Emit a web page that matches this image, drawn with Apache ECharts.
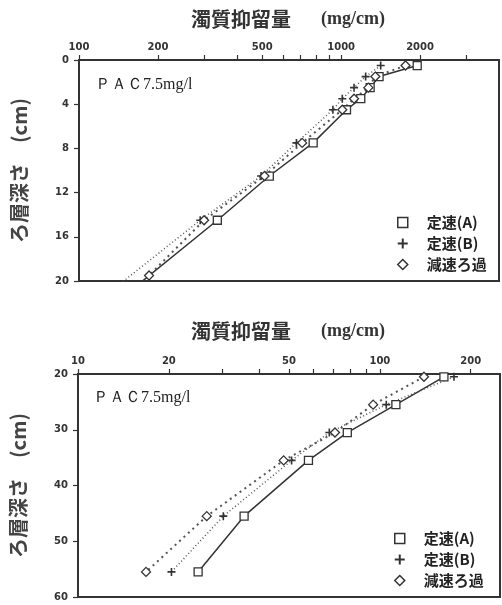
<!DOCTYPE html>
<html><head><meta charset="utf-8">
<script src="https://cdn.jsdelivr.net/npm/echarts@6/dist/echarts.min.js"></script>
<style>html,body{margin:0;padding:0;background:#fff}#c{width:502px;height:605px}</style>
</head><body><div id="c"></div>
<script>
// ---- data ----
const seriesNames = ['定速(A)', '定速(B)', '減速ろ過'];
// top panel (depth cm, retained mg/cm)
const depthTopA = [0.5, 1.5, 2.5, 3.5, 4.5, 7.5, 10.5, 14.5, 21];
const valTopA   = [1950, 1395, 1290, 1188, 1048, 782, 532, 337, 155];
const depthTopB = [0.5, 1.5, 2.5, 3.5, 4.5, 7.5, 10.5, 14.5, 21];
const valTopB   = [1415, 1240, 1120, 1010, 930, 675, 495, 290, 131];
const depthTopC = [0.5, 1.5, 2.5, 3.5, 4.5, 7.5, 10.5, 14.5, 19.5];
const valTopC   = [1760, 1350, 1270, 1120, 1010, 710, 510, 300, 185];
// bottom panel
const depthBot = [20.5, 25.5, 30.5, 35.5, 45.5, 55.5];
const valBotA  = [163, 113, 78, 58, 35.5, 25];
const valBotB  = [176, 105, 68, 51, 30.3, 20.4];
const valBotC  = [140, 95, 71, 48, 26.7, 16.8];
// tick labels
const topXTicks  = [100, 200, 300, 400, 500, 600, 700, 800, 900, 1000, 2000, 3000];
const topXLabels = [100, 200, 500, 1000, 2000];
const botXTicks  = [10, 20, 30, 40, 50, 60, 70, 80, 90, 100, 200];
const botXLabels = [10, 20, 50, 100, 200];
const axisTitle = '濁質抑留量';
const axisUnit = '(mg/cm)';
const yName = 'ろ層深さ　(cm)';
const noteText = 'ＰＡＣ7.5mg/l';

const pair = (xs, ys) => xs.map((x, i) => [x, ys[i]]);
const dark = '#333';
const plusPath = 'path://M4,0h2v4h4v2h-4v4h-2v-4h-4v-2h4z';
const cjk = '"Noto Sans CJK JP", sans-serif';

function xAx(gi, min, max, ticks, labels) {
  return {
    type: 'log', logBase: 10, gridIndex: gi, position: 'top', min, max,
    axisLine: { lineStyle: { color: dark, width: 2 } },
    axisTick: { show: true, inside: false, length: 5, customValues: ticks, lineStyle: { color: dark, width: 1.2 } },
    axisLabel: { customValues: labels, formatter: v => String(Math.round(v)), color: dark, fontSize: 10, fontWeight: 'bold', fontFamily: 'DejaVu Sans', margin: 8 },
    splitLine: { show: false }, minorTick: { show: false }
  };
}
function yAx(gi, min, max, interval) {
  return {
    type: 'value', gridIndex: gi, inverse: true, min, max, interval,
    name: yName, nameLocation: 'middle', nameRotate: 90, nameGap: 50,
    nameTextStyle: { fontFamily: cjk, fontSize: 20, fontWeight: 'bold', color: '#444' },
    axisLine: { onZero: false, lineStyle: { color: dark, width: 2 } },
    axisTick: { length: 5, lineStyle: { color: dark, width: 1.2 } },
    axisLabel: { color: dark, fontSize: 10, fontWeight: 'bold', fontFamily: 'DejaVu Sans', margin: 10 },
    splitLine: { show: false }
  };
}
function ser(name, data, gi, kind) {
  const base = { name, type: 'line', xAxisIndex: gi, yAxisIndex: gi, data, clip: true, symbolSize: 8, z: 3 };
  if (kind === 0) return Object.assign(base, { symbol: 'rect', itemStyle: { color: '#fff', borderColor: dark, borderWidth: 1.3 }, lineStyle: { color: '#333', width: 1.5, type: 'solid' } });
  if (kind === 1) return Object.assign(base, { symbol: plusPath, symbolSize: 8, itemStyle: { color: dark }, lineStyle: { color: '#555', width: 1.5, type: [1, 2.5] } });
  return Object.assign(base, { symbol: 'diamond', symbolSize: 9, itemStyle: { color: '#fff', borderColor: dark, borderWidth: 1.3 }, lineStyle: { color: '#555', width: 2, type: [2, 4] } });
}
function legend(left, top) {
  return {
    left, top, orient: 'vertical', itemWidth: 10, itemHeight: 10, itemGap: 6,
    textStyle: { fontFamily: cjk, fontSize: 15, fontWeight: 'bold', color: '#222', padding: [0, 0, 0, 14] },
    data: [
      { name: seriesNames[0], icon: 'rect', itemStyle: { color: '#fff', borderColor: dark, borderWidth: 1.5 } },
      { name: seriesNames[1], icon: plusPath, itemStyle: { color: dark, borderWidth: 0 } },
      { name: seriesNames[2], icon: 'diamond', itemStyle: { color: '#fff', borderColor: dark, borderWidth: 1.5 } }
    ]
  };
}
function title(top) {
  return {
    text: '{a|' + axisTitle + '}{s| }{b|' + axisUnit + '}', left: 186, top,
    textStyle: { rich: {
      a: { fontFamily: cjk, fontSize: 20, fontWeight: 'bold', color: '#333' },
      s: { width: 30 },
      b: { fontFamily: '"Liberation Serif", serif', fontSize: 18, fontWeight: 'bold', color: '#333' }
    } }
  };
}

const chart = echarts.init(document.getElementById('c'), null, { renderer: 'canvas' });
chart.setOption({
  animation: false,
  backgroundColor: '#fff',
  title: [title(4), title(316)],
  grid: [
    { left: 79, right: 3, top: 60, height: 221, show: true, borderColor: dark, borderWidth: 2 },
    { left: 76, right: 2, top: 374, height: 223, show: true, borderColor: dark, borderWidth: 2 }
  ],
  xAxis: [xAx(0, 100, 4000, topXTicks, topXLabels), xAx(1, 10, 250, botXTicks, botXLabels)],
  yAxis: [yAx(0, 0, 20, 4), yAx(1, 20, 60, 10)],
  legend: [legend(392, 210), legend(389, 526)],
  graphic: [
    { type: 'text', left: 95, top: 77, style: { text: noteText, fontFamily: '"Liberation Serif", serif', fontSize: 16, fill: '#222' } },
    { type: 'text', left: 93, top: 390, style: { text: noteText, fontFamily: '"Liberation Serif", serif', fontSize: 16, fill: '#222' } }
  ],
  series: [
    ser(seriesNames[0], pair(valTopA, depthTopA), 0, 0),
    ser(seriesNames[1], pair(valTopB, depthTopB), 0, 1),
    ser(seriesNames[2], pair(valTopC, depthTopC), 0, 2),
    ser(seriesNames[0], pair(valBotA, depthBot), 1, 0),
    ser(seriesNames[1], pair(valBotB, depthBot), 1, 1),
    ser(seriesNames[2], pair(valBotC, depthBot), 1, 2)
  ]
});
</script></body></html>
